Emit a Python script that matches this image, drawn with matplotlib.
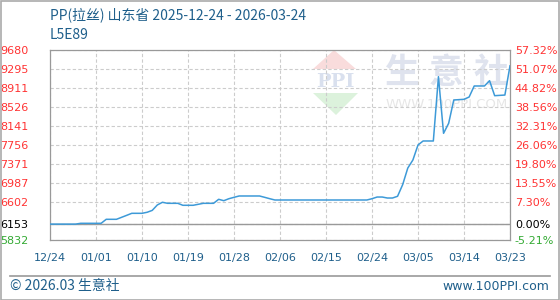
#!/usr/bin/env python3
# -*- coding: utf-8 -*-
"""PP(拉丝) 山东省 价格走势图（生意社风格）"""

import matplotlib
matplotlib.use('Agg')
import matplotlib.pyplot as plt
from matplotlib.patches import Polygon, Rectangle

plt.rcParams['font.family'] = ['DejaVu Sans', 'Noto Sans CJK SC']

# 数据：天数偏移（从 2025-12-24 起）与价格
days = [0, 5, 6, 10, 11, 13, 14, 15, 16, 18, 19, 20, 21, 22, 23, 25, 26, 28,
        29, 30, 32, 33, 34, 35, 36, 37, 41, 42, 43, 44, 62, 63, 64, 65, 66, 67,
        68, 69, 70, 71, 72, 73, 75, 76, 77, 78, 79, 81, 82, 83, 85, 86, 87, 89, 90]
prices = [6153, 6153, 6169, 6169, 6250, 6250, 6290, 6330, 6371, 6371, 6392, 6430,
          6540, 6594, 6573, 6573, 6533, 6533, 6553, 6573, 6573, 6654, 6626, 6666,
          6694, 6721, 6721, 6694, 6666, 6640, 6640, 6666, 6700, 6700, 6680, 6680,
          6715, 6950, 7285, 7448, 7751, 7832, 7832, 9131, 7987, 8190, 8660, 8674,
          8720, 8943, 8943, 9050, 8747, 8760, 9350]

base_price = 6153
ytick_vals = [9680, 9295, 8911, 8526, 8141, 7756, 7371, 6987, 6602, 6153, 5832]
ytick_pct = ['57.32%', '51.07%', '44.82%', '38.56%', '32.31%', '26.06%',
             '19.80%', '13.55%', '7.30%', '0.00%', '-5.21%']
xtick_pos = [0, 9, 18, 27, 36, 45, 54, 63, 72, 81, 90]
xtick_labels = ['12/24', '01/01', '01/10', '01/19', '01/28', '02/06',
                '02/15', '02/24', '03/05', '03/14', '03/23']

W, H = 560, 300
BLUE = '#1f5f8b'
RED = '#ff3333'
GREEN = '#33aa33'
GRAY = '#999999'


def fx(px):
    return px / W


def fy(py):
    return 1 - py / H


fig = plt.figure(figsize=(W / 100, H / 100), dpi=100)
fig.patch.set_facecolor('white')

# 外框
fig.patches.append(Rectangle((0.5 / W, 0.5 / H), 1 - 1.5 / W, 1 - 1.5 / H,
                             transform=fig.transFigure, fill=False,
                             edgecolor='#aaaaaa', linewidth=1.2))

# 水印 logo
fig.patches.append(Polygon([(fx(313), fy(69)), (fx(334), fy(50)), (fx(356), fy(69))],
                           closed=True, transform=fig.transFigure,
                           facecolor='#f9dcdc', edgecolor='none', zorder=-2))
fig.patches.append(Polygon([(fx(313), fy(93)), (fx(358), fy(93)), (fx(336), fy(115))],
                           closed=True, transform=fig.transFigure,
                           facecolor='#dcf2dc', edgecolor='none', zorder=-2))
fig.text(fx(335), fy(82), 'PPI', ha='center', va='center', fontsize=14,
         family='DejaVu Serif', fontweight='bold', color='#d9e0ee', zorder=-2)
for cx, ch in zip([402, 446, 491], '生意社'):
    fig.text(fx(cx), fy(72), ch, ha='center', va='center', fontsize=25,
             family='Noto Sans CJK SC', fontweight='bold', color='#dfe3ee', zorder=-2)
fig.text(fx(447), fy(105), 'WWW.100PPI.COM', ha='center', va='center',
         fontsize=9.5, color='#e6e6e6', zorder=-2)

ax = fig.add_axes([fx(50), fy(240), (510 - 50) / W, (240 - 49.5) / H])
ax.set_facecolor('none')
ax.plot(days, prices, color='#3d9ad8', linewidth=1.1, zorder=3)
ax.axhline(base_price, color=GRAY, linewidth=1.0, zorder=2)

ax.set_xlim(0, 90)
ax.set_ylim(5832, 9680)
ax.set_xticks(xtick_pos)
ax.set_xticklabels(xtick_labels)
ax.set_yticks(ytick_vals)
ax.set_yticklabels([str(v) for v in ytick_vals])
ax.grid(True, color='#cccccc', linestyle=(0, (3, 2)), linewidth=0.8)
ax.tick_params(axis='both', length=0, labelsize=8)
ax.tick_params(axis='y', pad=15.5)
ax.tick_params(axis='x', pad=9, labelcolor=BLUE)
for sp in ax.spines.values():
    sp.set_color(GRAY)
    sp.set_linewidth(0.9)

ax2 = ax.twinx()
ax2.set_ylim(ax.get_ylim())
ax2.set_yticks(ytick_vals)
ax2.set_yticklabels(ytick_pct)
ax2.tick_params(axis='y', length=0, labelsize=8, pad=3.5)
for sp in ax2.spines.values():
    sp.set_visible(False)


def label_color(v):
    if v == base_price:
        return 'black'
    return GREEN if v < base_price else RED


for lbl, v in zip(ax.get_yticklabels(), ytick_vals):
    lbl.set_color(label_color(v))
for lbl, v in zip(ax2.get_yticklabels(), ytick_vals):
    lbl.set_color(label_color(v))

# 标题
title_fam = ['Noto Sans CJK SC', 'DejaVu Sans']
fig.text(fx(50), fy(19.5), 'PP(拉丝) 山东省 2025-12-24 - 2026-03-24', ha='left',
         va='baseline', fontsize=10, color=BLUE, family=title_fam)
fig.text(fx(50), fy(39), 'L5E89', ha='left', va='baseline', fontsize=10,
         color=BLUE, family=title_fam)

# 底部
fig.add_artist(plt.Line2D([fx(10), fx(550)], [fy(275.5), fy(275.5)],
                          transform=fig.transFigure, color=GRAY, linewidth=1.2))
fig.text(fx(10), fy(290), '© 2026.03 生意社', ha='left', va='baseline',
         fontsize=10, color=BLUE, family=title_fam)
fig.text(fx(549), fy(290), 'www.100PPI.com', ha='right', va='baseline',
         fontsize=9, color=BLUE)

fig.savefig('out.png', dpi=100)
plt.close(fig)
